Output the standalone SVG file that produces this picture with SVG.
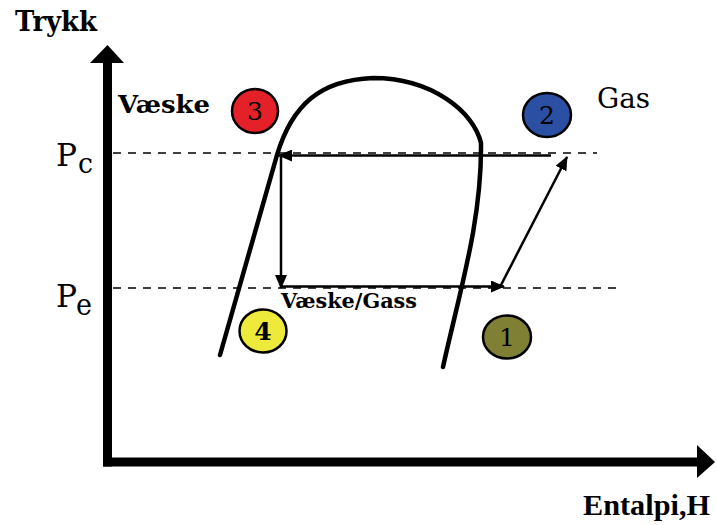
<svg xmlns="http://www.w3.org/2000/svg" width="716" height="525" viewBox="0 0 716 525">
<style>
.serif{font-family:"DejaVu Serif","Liberation Serif",serif;fill:#000}
.b{font-weight:bold}
.dash{stroke:#000;stroke-width:1.5;stroke-dasharray:8 7;fill:none}
.cyc{stroke:#000;stroke-width:2.5;fill:none;marker-end:url(#ah)}
.pt{stroke:#000;stroke-width:2.5}
.num{font-family:"DejaVu Serif","Liberation Serif",serif;font-size:25px;text-anchor:middle;fill:#000}
</style>
<defs>
<marker id="ah" viewBox="0 0 14 12" refX="13" refY="6" markerWidth="14" markerHeight="12" markerUnits="userSpaceOnUse" orient="auto">
<path d="M0,0 L14,6 L0,12 z" fill="#000"/>
</marker>
</defs>
<rect width="716" height="525" fill="#fff"/>

<g id="axes">
<line x1="107.5" y1="60" x2="107.5" y2="466.5" stroke="#000" stroke-width="9"/>
<polygon points="90,63 124,63 107.5,45" fill="#000"/>
<line x1="103" y1="462" x2="699" y2="462" stroke="#000" stroke-width="9"/>
<polygon points="697,445 697,478 715,462" fill="#000"/>
</g>

<g id="labels">
<text class="serif b" x="15" y="31" font-size="27" textLength="82" lengthAdjust="spacingAndGlyphs">Trykk</text>
<text x="583" y="515" font-size="30" font-weight="bold" font-family="Liberation Serif, Times New Roman, serif" textLength="127" lengthAdjust="spacingAndGlyphs">Entalpi,H</text>
<text class="serif b" x="118" y="113" font-size="25" textLength="92" lengthAdjust="spacingAndGlyphs">Væske</text>
<text class="serif" x="597" y="108" font-size="28" textLength="53" lengthAdjust="spacingAndGlyphs">Gas</text>
<text class="serif b" x="281" y="308" font-size="20" textLength="136" lengthAdjust="spacingAndGlyphs">Væske/Gass</text>
<text class="serif" x="56" y="166" font-size="32" textLength="21" lengthAdjust="spacingAndGlyphs">P</text>
<text class="serif" x="78" y="173" font-size="27" textLength="15" lengthAdjust="spacingAndGlyphs">c</text>
<text class="serif" x="56" y="307" font-size="32" textLength="21" lengthAdjust="spacingAndGlyphs">P</text>
<text class="serif" x="76" y="315" font-size="29" textLength="16" lengthAdjust="spacingAndGlyphs">e</text>
</g>

<g id="pressure-lines">
<line class="dash" x1="113" y1="153" x2="597" y2="153"/>
<line class="dash" x1="113" y1="288" x2="622" y2="288"/>
</g>

<g id="dome">
<path d="M220,355 L277,155 C292,105 320,80 373,78 C432,78 474,112 481,143 C482,220 460,290 443,367" fill="none" stroke="#000" stroke-width="4.5" stroke-linecap="round" stroke-linejoin="round"/>
</g>

<g id="connectors">
<path class="cyc" d="M551,155.5 L279,155.5"/>
<path class="cyc" d="M281,155 L281,288"/>
<path class="cyc" d="M281,286.5 L504,286.5"/>
<path class="cyc" d="M500,287 L567,157"/>
</g>

<g id="point-1">
<ellipse class="pt" cx="507" cy="337" rx="24" ry="21.5" fill="#808035"/>
<text class="num" x="507" y="346">1</text>
</g>
<g id="point-2">
<ellipse class="pt" cx="547" cy="115" rx="24" ry="22" fill="#2b4fa3"/>
<text class="num" x="547" y="124">2</text>
</g>
<g id="point-3">
<ellipse class="pt" cx="255" cy="111" rx="23" ry="22" fill="#e42128"/>
<text class="num" x="255" y="120">3</text>
</g>
<g id="point-4">
<ellipse class="pt" cx="263" cy="331" rx="23.5" ry="21.5" fill="#eeea3c"/>
<text class="num b" x="263" y="340">4</text>
</g>
</svg>
